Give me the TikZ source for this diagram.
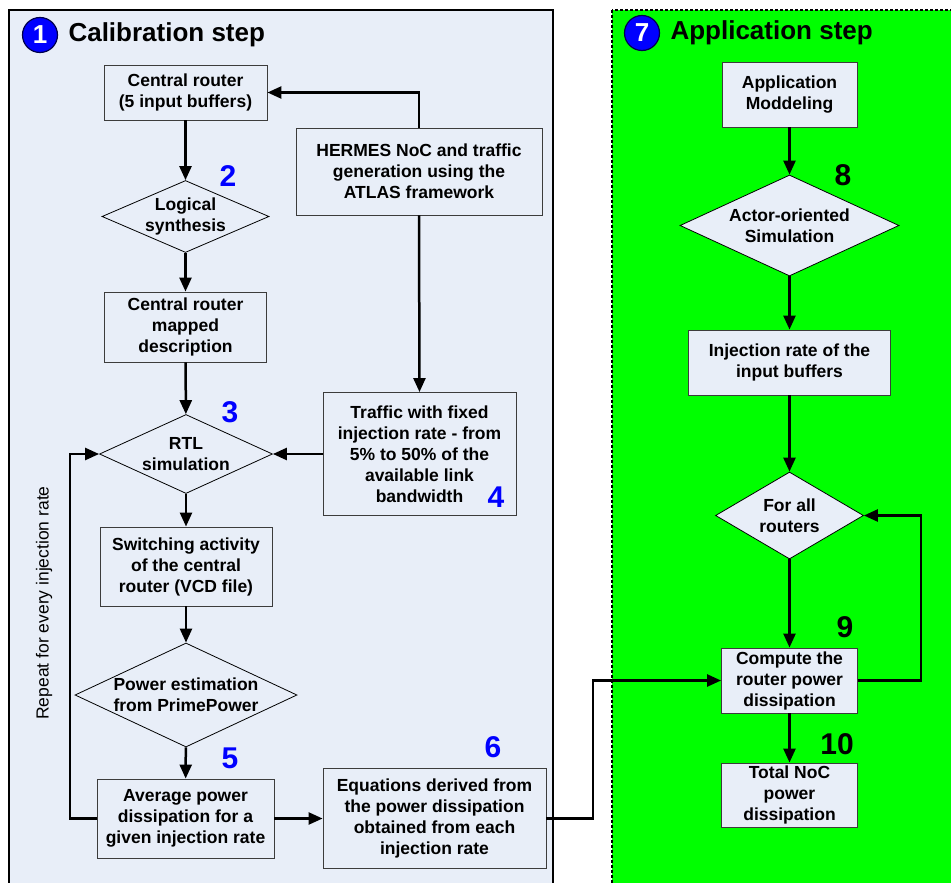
\documentclass[tikz,border=0pt]{standalone}
\usepackage{fontspec}
\setmainfont{Liberation Sans}
\usetikzlibrary{shapes.geometric,arrows.meta}
\definecolor{panelbg}{RGB}{232,238,248}
\definecolor{appgreen}{RGB}{0,255,0}
\definecolor{numblue}{RGB}{0,0,255}
\definecolor{boxline}{RGB}{60,60,60}
\newcommand\boxfont{\fontsize{17.5}{21}\selectfont\bfseries}
\newcommand\titlefont{\fontsize{26}{30}\selectfont\bfseries}
\newcommand\stepfont{\fontsize{30}{34}\selectfont\bfseries}
\begin{document}
\begin{tikzpicture}[x=1pt,y=-1pt,
  box/.style={draw=boxline, line width=0.9pt, fill=panelbg, align=center, font=\boxfont, inner sep=0pt},
  dia/.style={diamond, draw=black, line width=0.8pt, fill=panelbg, inner sep=0pt},
  diatext/.style={font=\boxfont, align=center},
  arr/.style={line width=2.5pt, -{Triangle[length=14pt,width=12pt]}},
  circnum/.style={circle, fill=numblue, draw=black!70!blue, line width=1.2pt, minimum size=35pt, inner sep=0pt, text=white, font=\titlefont},
  bluenum/.style={font=\stepfont, text=numblue},
  blacknum/.style={font=\stepfont, text=black},
  titletext/.style={anchor=west, font=\titlefont}]
\clip (0,0) rectangle (951,883);
% panels
\fill[white] (0,0) rectangle (951,883);
\draw[line width=2pt, fill=panelbg] (9,10) rectangle (553,900);
\draw[line width=1.6pt, dash pattern=on 3pt off 2pt, fill=appgreen] (612,10) rectangle (960,900);
% titles
\node[circnum] (c1) at (40,35) {1};
\node[titletext] (t1) at (65,35) {Calibration step};
\node[circnum] (c7) at (642,33) {7};
\node[titletext] (t7) at (667,33) {Application step};
% calibration step nodes
\node[box, minimum width=163, minimum height=55] (cr) at (185.5,92.5) {Central router\\(5 input buffers)};
\node[box, minimum width=246, minimum height=87] (hermes) at (419,171.5) {HERMES NoC and traffic\\generation using the\\ATLAS framework};
\node[dia, minimum width=167, minimum height=72, label={[diatext]center:{Logical\\synthesis}}] (logi) at (185.5,216.5) {};
\node[box, minimum width=162, minimum height=70] (mapped) at (185.5,327) {Central router\\mapped\\description};
\node[dia, minimum width=173, minimum height=79, label={[diatext]center:{RTL\\simulation}}] (rtl) at (186,454) {};
\node[box, minimum width=193, minimum height=123] (traffic) at (419.5,454) {Traffic with fixed\\injection rate - from\\5\% to 50\% of the\\available link\\bandwidth};
\node[box, minimum width=172, minimum height=79] (switch) at (186,566.5) {Switching activity\\of the central\\router (VCD file)};
\node[dia, minimum width=222, minimum height=104, label={[diatext]center:{Power estimation\\from PrimePower}}] (power) at (186,695) {};
\node[box, minimum width=177, minimum height=79] (avg) at (185.5,818.5) {Average power\\dissipation for a\\given injection rate};
\node[box, minimum width=223, minimum height=100] (eq) at (434.5,818.5) {Equations derived from\\the power dissipation\\obtained from each\\injection rate};
\node[rotate=90, font=\fontsize{17.5}{20}\selectfont] (rep) at (44,603) {Repeat for every injection rate};
% step numbers
\node[bluenum] (n2) at (228,176) {2};
\node[bluenum] (n3) at (230,412) {3};
\node[bluenum] (n4) at (496,497) {4};
\node[bluenum] (n5) at (230,758) {5};
\node[bluenum] (n6) at (493,747) {6};
% application step nodes
\node[box, minimum width=135, minimum height=65] (appmod) at (789.5,94.5) {Application\\Moddeling};
\node[dia, minimum width=219, minimum height=101, label={[diatext]center:{Actor-oriented\\Simulation}}] (actor) at (789.5,225.5) {};
\node[box, minimum width=202, minimum height=65] (inj) at (789.5,362.5) {Injection rate of the\\input buffers};
\node[dia, minimum width=148, minimum height=87, label={[diatext]center:{For all\\routers}}] (forall) at (789.5,515.5) {};
\node[box, minimum width=136, minimum height=65] (compute) at (789.5,680.5) {Compute the\\router power\\dissipation};
\node[box, minimum width=136, minimum height=64] (total) at (789.5,795) {Total NoC\\power\\dissipation};
\node[blacknum] (n8) at (843,175) {8};
\node[blacknum] (n9) at (845,627) {9};
\node[blacknum] (n10) at (837,744) {10};
% connectors, calibration
\draw[arr] (cr) -- (logi);
\draw[arr] (logi) -- (mapped);
\draw[arr] (mapped) -- (rtl);
\draw[arr] (rtl) -- (switch);
\draw[arr] (switch) -- (power);
\draw[arr] (power) -- (avg);
\draw[arr] (hermes.north) |- (cr.east);
\draw[arr] (hermes.south) -- (traffic.north);
\draw[arr] (traffic.west) -- (rtl.east);
\coordinate (loopL) at (70,818.5);
\draw[arr] (avg.west) -- (loopL) |- (rtl.west);
\draw[arr] (avg.east) -- (eq.west);
\coordinate (link) at (593,818.5);
\draw[arr] (eq.east) -- (link) |- (compute.west);
% connectors, application
\draw[arr] (appmod) -- (actor);
\draw[arr] (actor) -- (inj);
\draw[arr] (inj) -- (forall);
\draw[arr] (forall) -- (compute);
\draw[arr] (compute) -- (total);
\coordinate (loopR) at (921,680.5);
\draw[arr] (compute.east) -- (loopR) |- (forall.east);
\end{tikzpicture}
\end{document}
